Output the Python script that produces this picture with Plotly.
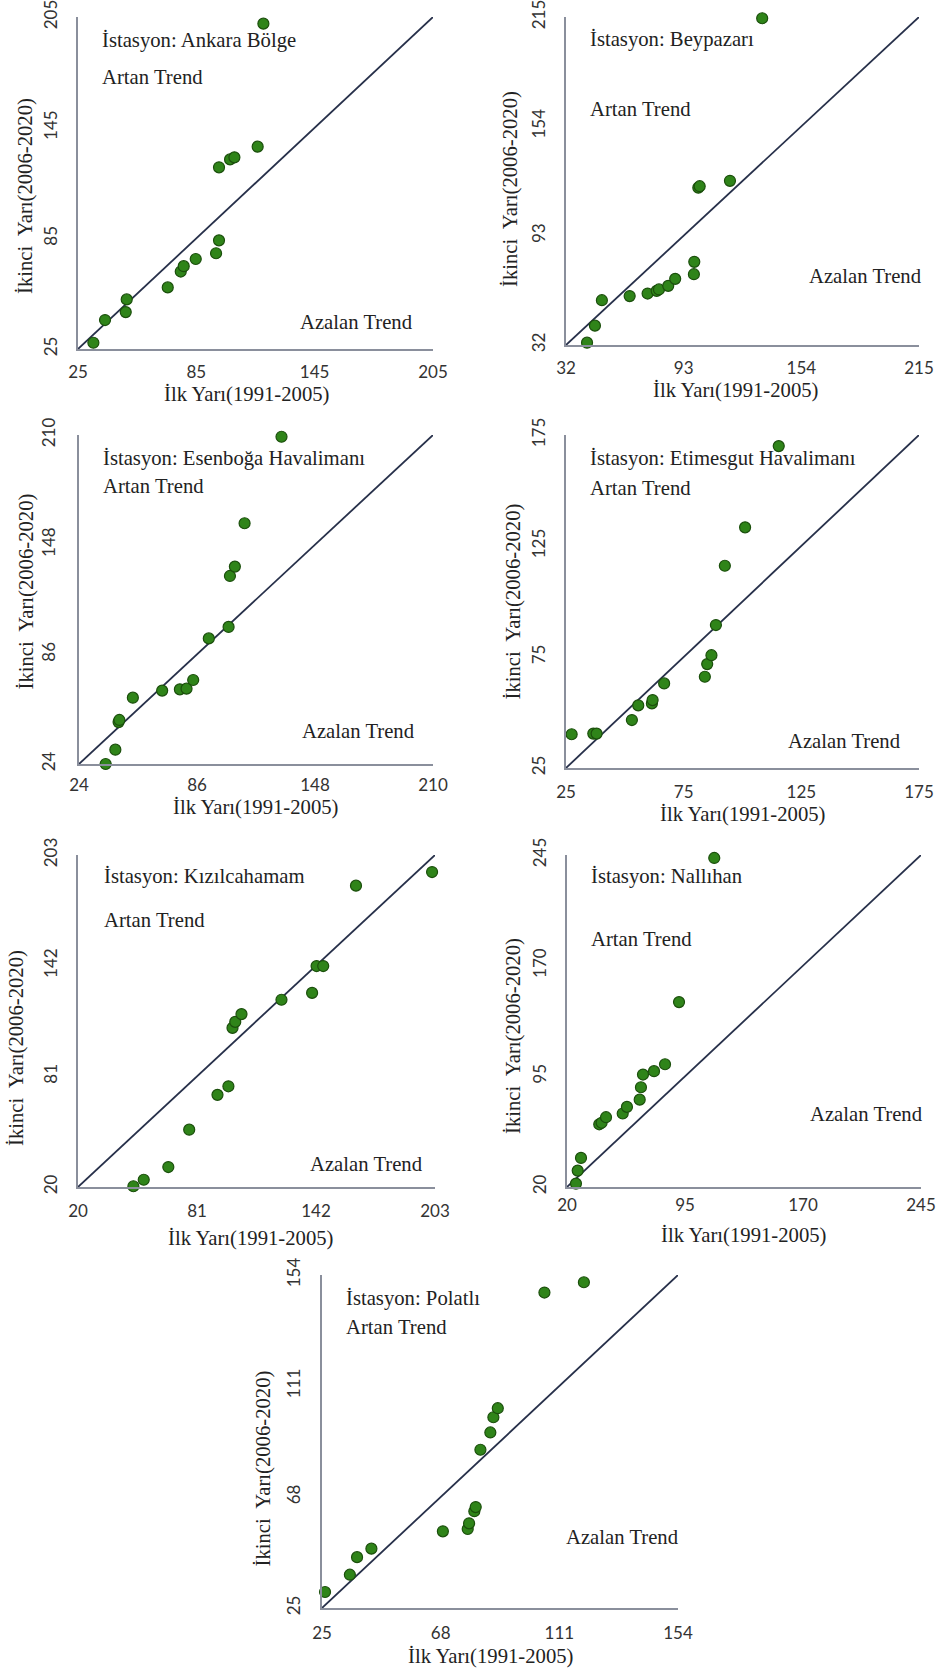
import plotly.graph_objects as go

# ---------------- data ----------------
stations = ["Ankara Bölge", "Beypazarı", "Esenboğa Havalimanı", "Etimesgut Havalimanı",
            "Kızılcahamam", "Nallıhan", "Polatlı"]

ankara_x = [32.8, 38.7, 49.2, 49.7, 70.5, 77.1, 78.6, 84.7, 95.0, 96.5, 96.5, 102.1, 104.3, 116.1, 119.0]
ankara_y = [28.4, 40.7, 45.0, 51.9, 58.4, 67.0, 69.9, 73.8, 76.9, 83.9, 123.5, 127.8, 128.9, 134.7, 201.4]

beypazari_x = [42.9, 47.0, 50.6, 65.0, 74.3, 79.0, 80.2, 85.0, 88.6, 98.3, 98.5, 100.6, 101.3, 117.0, 133.7]
beypazari_y = [33.3, 42.8, 57.0, 59.3, 60.7, 62.2, 63.0, 65.0, 68.9, 71.5, 78.4, 119.8, 120.6, 123.6, 214.3]

esenboga_x = [38.0, 43.1, 44.8, 45.2, 52.3, 67.7, 77.0, 80.5, 84.0, 92.2, 102.6, 103.3, 105.9, 111.0, 130.4]
esenboga_y = [24.0, 32.1, 47.7, 48.9, 61.5, 65.5, 66.2, 66.6, 71.5, 95.0, 101.5, 130.3, 135.6, 160.1, 209.0]

etimesgut_x = [27.4, 36.6, 38.0, 53.0, 55.7, 61.5, 61.8, 66.7, 84.0, 85.0, 86.8, 88.7, 92.5, 101.1, 115.4]
etimesgut_y = [40.2, 40.5, 40.5, 46.6, 53.2, 54.1, 55.6, 63.1, 66.1, 71.8, 75.8, 89.4, 116.1, 133.4, 170.0]

kizilcahamam_x = [48.4, 53.7, 66.3, 77.0, 91.5, 97.1, 99.2, 100.6, 103.8, 124.3, 140.0, 142.3, 145.7, 162.5, 201.5]
kizilcahamam_y = [20.4, 24.0, 31.0, 51.6, 70.8, 75.5, 107.7, 111.0, 115.3, 123.2, 127.0, 141.8, 141.8, 186.1, 193.6]

nallihan_x = [25.7, 26.8, 28.9, 40.5, 42.0, 44.8, 55.4, 58.1, 66.2, 67.0, 68.3, 75.3, 82.3, 91.2, 113.6]
nallihan_y = [22.3, 31.1, 39.7, 62.5, 63.5, 67.3, 69.8, 74.3, 79.2, 87.6, 96.2, 98.5, 103.2, 145.3, 243.0]

polatli_x = [26.1, 35.1, 37.7, 42.9, 68.8, 77.8, 78.3, 80.2, 80.7, 82.4, 86.0, 87.1, 88.7, 105.6, 119.9]
polatli_y = [31.2, 37.9, 44.7, 48.0, 54.7, 55.6, 57.8, 62.5, 64.1, 86.3, 93.0, 98.9, 102.4, 147.2, 151.2]

# tick values for each station (min, t1, t2, max)
ticks = [
    [25, 85, 145, 205],
    [32, 93, 154, 215],
    [24, 86, 148, 210],
    [25, 75, 125, 175],
    [20, 81, 142, 203],
    [20, 95, 170, 245],
    [25, 68, 111, 154],
]

series_x = [ankara_x, beypazari_x, esenboga_x, etimesgut_x, kizilcahamam_x, nallihan_x, polatli_x]
series_y = [ankara_y, beypazari_y, esenboga_y, etimesgut_y, kizilcahamam_y, nallihan_y, polatli_y]

x_title = "İlk Yarı(1991-2005)"
y_title = "İkinci  Yarı(2006-2020)"
up_label = "Artan Trend"
down_label = "Azalan Trend"

# ---------------- layout (pixel boxes of each plot area) ----------------
W, H = 936, 1670
boxes = [  # left, right, top, bottom in px
    (78, 433, 17, 349),
    (566, 919, 17, 345),
    (79, 433, 435, 764),
    (566, 919, 435, 768),
    (78, 435, 855, 1187),
    (567, 921, 855, 1187),
    (322, 678, 1275, 1608),
]
# label positions (fraction of plot height from top / of width from left)
station_pos = [0.07, 0.07, 0.07, 0.072, 0.066, 0.066, 0.07]
up_pos = [0.18, 0.28, 0.155, 0.16, 0.196, 0.253, 0.156]
down_pos = [0.92, 0.79, 0.90, 0.92, 0.93, 0.78, 0.787]
down_x = [0.95, 1.014, 0.955, 0.955, 0.972, 1.01, 1.008]
station_x = [0.062, 0.062, 0.062, 0.062, 0.067, 0.062, 0.062]
# tick / title offsets in px
xtick_len = [7, 7, 5, 8, 8, 2, 9]
ytick_len = [12, 12, 15, 12, 12, 12, 13]
xtitle_off = [45, 46, 43, 46, 51, 48, 48]
xtitle_dx = [-9, -7, 0, 0, -6, 0, -9]
ytitle_off = [53, 56, 53, 53, 62, 54, 59]
ytitle_dy = [13, 8, -8, 0, 27, 15, 27]

serif = "Liberation Serif, Times New Roman, serif"
sans = "Lato, Liberation Sans, sans-serif"
FS = 20.7

fig = go.Figure()
layout = dict(
    width=W, height=H,
    margin=dict(l=0, r=0, t=0, b=0, autoexpand=False),
    paper_bgcolor="white", plot_bgcolor="white",
    showlegend=False,
    annotations=[],
)

for i in range(7):
    n = "" if i == 0 else str(i + 1)
    xa, ya = "x" + n, "y" + n
    L, R, T, B = boxes[i]
    tv = ticks[i]
    lo, hi = tv[0], tv[-1]
    axis_common = dict(
        range=[lo, hi], tickvals=tv, ticktext=[str(v) for v in tv],
        showgrid=False, zeroline=False, showline=True, automargin=False,
        linecolor="#8a8f9c", linewidth=1.6, ticks="outside",
        tickcolor="rgba(0,0,0,0)", ticklabeloverflow="allow",
        tickfont=dict(family=sans, size=17, color="#333333"),
    )
    layout["xaxis" + n] = dict(axis_common, domain=[L / W, R / W], anchor=ya,
                               ticklen=xtick_len[i])
    layout["yaxis" + n] = dict(axis_common, domain=[1 - B / H, 1 - T / H], anchor=xa,
                               tickangle=-90, ticklen=ytick_len[i])

    # 1:1 line
    fig.add_trace(go.Scatter(x=[lo, hi], y=[lo, hi], mode="lines",
                             line=dict(color="#27304a", width=1.8),
                             xaxis=xa, yaxis=ya, hoverinfo="skip"))
    # points
    fig.add_trace(go.Scatter(x=series_x[i], y=series_y[i], mode="markers",
                             marker=dict(size=11, color="#2f8419",
                                         line=dict(color="#1b4f0c", width=1.2)),
                             cliponaxis=False, xaxis=xa, yaxis=ya))

    xd, yd = xa + " domain", ya + " domain"
    tfont = dict(family=serif, size=FS, color="#222222")
    layout["annotations"] += [
        dict(text="İstasyon: " + stations[i], x=station_x[i], y=1 - station_pos[i],
             xref=xd, yref=yd, xanchor="left", yanchor="middle", showarrow=False,
             font=tfont),
        dict(text=up_label, x=station_x[i], y=1 - up_pos[i],
             xref=xd, yref=yd, xanchor="left", yanchor="middle", showarrow=False,
             font=tfont),
        dict(text=down_label, x=down_x[i], y=1 - down_pos[i],
             xref=xd, yref=yd, xanchor="right", yanchor="middle", showarrow=False,
             font=tfont),
        # axis titles
        dict(text=x_title, x=((L + R) / 2 + xtitle_dx[i]) / W, y=1 - (B + xtitle_off[i]) / H,
             xref="paper", yref="paper", xanchor="center", yanchor="middle",
             showarrow=False, font=tfont),
        dict(text=y_title, x=(L - ytitle_off[i]) / W, y=1 - ((T + B) / 2 + ytitle_dy[i]) / H,
             xref="paper", yref="paper", xanchor="center", yanchor="middle",
             textangle=-90, showarrow=False, font=tfont),
    ]

fig.update_layout(**layout)
fig.write_html("out.html")
